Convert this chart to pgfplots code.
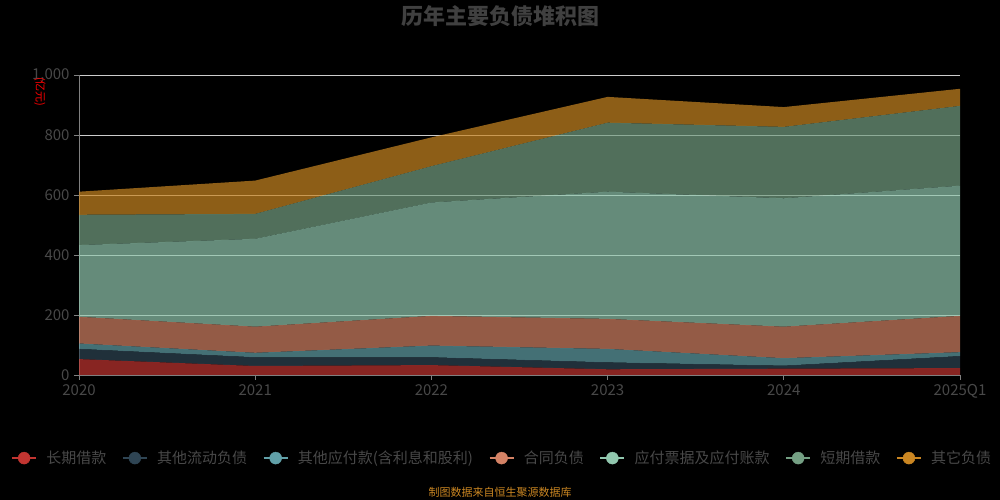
\documentclass[border=0pt]{standalone}
\usepackage{fontspec}
\setmainfont{Noto Sans CJK SC}
\usepackage{pgfplots}
\pgfplotsset{compat=1.18}

\definecolor{c1}{HTML}{C23531}
\definecolor{c2}{HTML}{2F4554}
\definecolor{c3}{HTML}{61A0A8}
\definecolor{c4}{HTML}{D48265}
\definecolor{c5}{HTML}{91C7AE}
\definecolor{c6}{HTML}{749F83}
\definecolor{c7}{HTML}{CA8622}
\definecolor{tickgray}{RGB}{72,72,72}
\definecolor{titlegray}{RGB}{64,64,64}
\definecolor{gridgray}{RGB}{204,204,204}

\pgfplotsset{
  legimg/.style={legend image code/.code={
    \draw[#1,line width=1.2pt] (0bp,0bp) -- (24bp,0bp);
    \fill[#1] (12bp,0bp) circle (6bp);
    \path (32bp,0bp);}},
  lay/.style={draw=none, fill=#1, fill opacity=0.7, forget plot},
}

\begin{document}
\begin{tikzpicture}[x=1bp,y=1bp]
\useasboundingbox (0,0) rectangle (1000,500);
\fill[black] (0,0) rectangle (1000,500);

\begin{axis}[
    at={(79bp,125bp)}, anchor=south west,
    scale only axis, width=881bp, height=300bp,
    xmin=0, xmax=5, ymin=0, ymax=1000,
    xtick={0,1,2,3,4,5},
    xticklabels={2020,2021,2022,2023,2024,2025Q1},
    ytick={0,200,400,600,800,1000},
    stack plots=y,
    axis x line*=bottom, axis y line*=left,
    axis line style={gray, line width=0.8pt},
    ymajorgrids, major grid style={gridgray, line width=0.8pt},
    tick style={gray, line width=0.8pt},
    tick align=outside, major tick length=5bp,
    ticklabel style={text=tickgray, font=\fontsize{15bp}{15bp}\selectfont},
    /pgf/number format/assume math mode=true,
    y tick label style={/pgf/number format/1000 sep={,}, xshift=-1bp},
    x tick label style={yshift=-1bp},
    legend columns=7,
    legend style={at={(0.4805,-0.277)}, anchor=center, draw=none, fill=none,
      text=tickgray, font=\fontsize{15bp}{15bp}\selectfont,
      /tikz/every even column/.append style={column sep=14bp}},
]
\addplot[lay=c1] coordinates {(0,53) (1,30) (2,33) (3,19) (4,21) (5,23)} \closedcycle;
\addplot[lay=c2] coordinates {(0,34) (1,29) (2,26) (3,23) (4,10) (5,40)} \closedcycle;
\addplot[lay=c3] coordinates {(0,18) (1,15) (2,39) (3,45) (4,25) (5,13)} \closedcycle;
\addplot[lay=c4] coordinates {(0,89) (1,87) (2,99) (3,100) (4,105) (5,121)} \closedcycle;
\addplot[lay=c5] coordinates {(0,239) (1,293) (2,378) (3,424) (4,428) (5,434)} \closedcycle;
\addplot[lay=c6] coordinates {(0,101) (1,83) (2,121) (3,230) (4,238) (5,266)} \closedcycle;
\addplot[lay=c7] coordinates {(0,77) (1,111) (2,96) (3,86) (4,66) (5,57)} \closedcycle;

\addlegendimage{legimg=c1}\addlegendentry{长期借款}
\addlegendimage{legimg=c2}\addlegendentry{其他流动负债}
\addlegendimage{legimg=c3}\addlegendentry{其他应付款(含利息和股利)}
\addlegendimage{legimg=c4}\addlegendentry{合同负债}
\addlegendimage{legimg=c5}\addlegendentry{应付票据及应付账款}
\addlegendimage{legimg=c6}\addlegendentry{短期借款}
\addlegendimage{legimg=c7}\addlegendentry{其它负债}
\end{axis}

\node[text=titlegray, font=\fontsize{22bp}{22bp}\selectfont\bfseries] at (500,484) {历年主要负债堆积图};
\node[text=red, rotate=-90, font=\fontsize{11bp}{11bp}\selectfont, inner sep=0pt] at (40,408) {(亿元)};
\node[text=c7, font=\fontsize{11bp}{11bp}\selectfont, inner sep=0pt] at (500,8) {制图数据来自恒生聚源数据库};
\end{tikzpicture}
\end{document}
